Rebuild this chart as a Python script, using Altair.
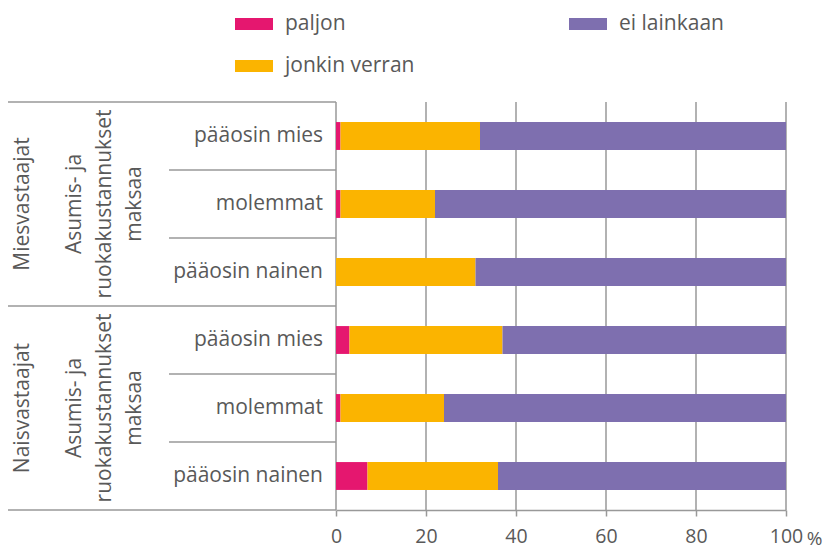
import altair as alt
import pandas as pd

# ---- data ----
row_keys = ["M1", "M2", "M3", "N1", "N2", "N3"]
row_labels = ["pääosin mies", "molemmat", "pääosin nainen",
              "pääosin mies", "molemmat", "pääosin nainen"]
categories = ["paljon", "jonkin verran", "ei lainkaan"]
paljon = [1, 1, 0, 3, 1, 7]
jonkin_verran = [31, 21, 31, 34, 23, 29]
ei_lainkaan = [68, 78, 69, 63, 76, 64]
groups = ["Miesvastaajat", "Naisvastaajat"]
group_rows = ["M2", "N2"]
sub_label = "Asumis- ja\nruokakustannukset\nmaksaa"
x_ticks = [0, 20, 40, 60, 80, 100]
colors = ["#E5176F", "#FBB400", "#7E6FAF"]

FONT = "Open Sans"
FS = 21
TXT = "#595959"
LINE = "#999999"

series = {"paljon": paljon, "jonkin verran": jonkin_verran, "ei lainkaan": ei_lainkaan}
recs = []
for ci, c in enumerate(categories):
    for r, v in zip(row_keys, series[c]):
        recs.append({"row": r, "cat": c, "value": v, "ord": ci})
bars_df = pd.DataFrame(recs)
labels_df = pd.DataFrame({"row": row_keys, "label": row_labels})
groups_df = pd.DataFrame({"row": group_rows, "g": groups, "sub": [sub_label] * 2})
ticks_df = pd.DataFrame({"value": x_ticks})

yscale = alt.Scale(domain=row_keys, range=[94, 502], paddingInner=0.59, paddingOuter=0.295)
xscale = alt.Scale(domain=[0, 100], range=[328, 778], nice=False)
x_axis = alt.Axis(values=x_ticks, grid=False, domainColor=LINE, domainWidth=1.5,
                  tickColor=LINE, tickWidth=1.5, tickSize=6,
                  labelFont=FONT, labelFontSize=19.5, labelColor=TXT, labelPadding=11,
                  labelFlush=False, labelOverlap=False,
                  title="%", titleX=806, titleY=28, titleAlign="center",
                  titleBaseline="middle", titleFont=FONT, titleFontSize=19,
                  titleFontWeight="normal", titleColor=TXT)

grid = alt.Chart(ticks_df).mark_rule(color=LINE, strokeWidth=1.5).encode(
    x=alt.X("value:Q", scale=xscale, axis=x_axis),
    y=alt.value(94), y2=alt.value(502))

bars = alt.Chart(bars_df).mark_bar().encode(
    x=alt.X("value:Q", stack="zero", scale=xscale, axis=x_axis),
    y=alt.Y("row:N", scale=yscale, axis=None),
    color=alt.Color("cat:N",
                    scale=alt.Scale(domain=categories, range=colors),
                    legend=alt.Legend(orient="none", legendX=227, legendY=-3, columns=2,
                                      columnPadding=154, rowPadding=13, padding=0,
                                      symbolType="M-1,-0.32H1V0.32H-1Z", symbolSize=1444,
                                      symbolStrokeWidth=0, labelOffset=12,
                                      labelFont=FONT, labelFontSize=FS, labelColor=TXT,
                                      title=None)),
    order=alt.Order("ord:Q", sort="ascending"))

row_text = alt.Chart(labels_df).mark_text(align="right", baseline="middle", font=FONT,
                                          fontSize=FS, color=TXT).encode(
    y=alt.Y("row:N", scale=yscale, axis=None), x=alt.value(315), text="label:N")

group_text = alt.Chart(groups_df).mark_text(angle=270, align="center", baseline="middle",
                                            font=FONT, fontSize=FS, color=TXT).encode(
    y=alt.Y("row:N", scale=yscale, axis=None), x=alt.value(15), text="g:N")

sub_text = alt.Chart(groups_df).mark_text(angle=270, align="center", baseline="middle",
                                          font=FONT, fontSize=FS, color=TXT,
                                          lineBreak="\n", lineHeight=30).encode(
    y=alt.Y("row:N", scale=yscale, axis=None), x=alt.value(67), text="sub:N")

def hline(x1, x2, y):
    return alt.Chart(alt.Data(values=[{}])).mark_rule(color=LINE, strokeWidth=1.5).encode(
        x=alt.value(x1), x2=alt.value(x2), y=alt.value(y))

lines = [hline(0, 328, 94), hline(0, 328, 298), hline(0, 328, 502)]
for yy in [162, 230, 366, 434]:
    lines.append(hline(161, 328, yy))

chart = alt.layer(grid, bars, row_text, group_text, sub_text, *lines).properties(
    width=817, height=502,
    autosize=alt.AutoSizeParams(type="none"),
    padding={"left": 0, "top": 0, "right": 0, "bottom": 39},
).configure_view(stroke=None)

chart.save("out.html", embed_options={"renderer": "svg", "actions": False})
